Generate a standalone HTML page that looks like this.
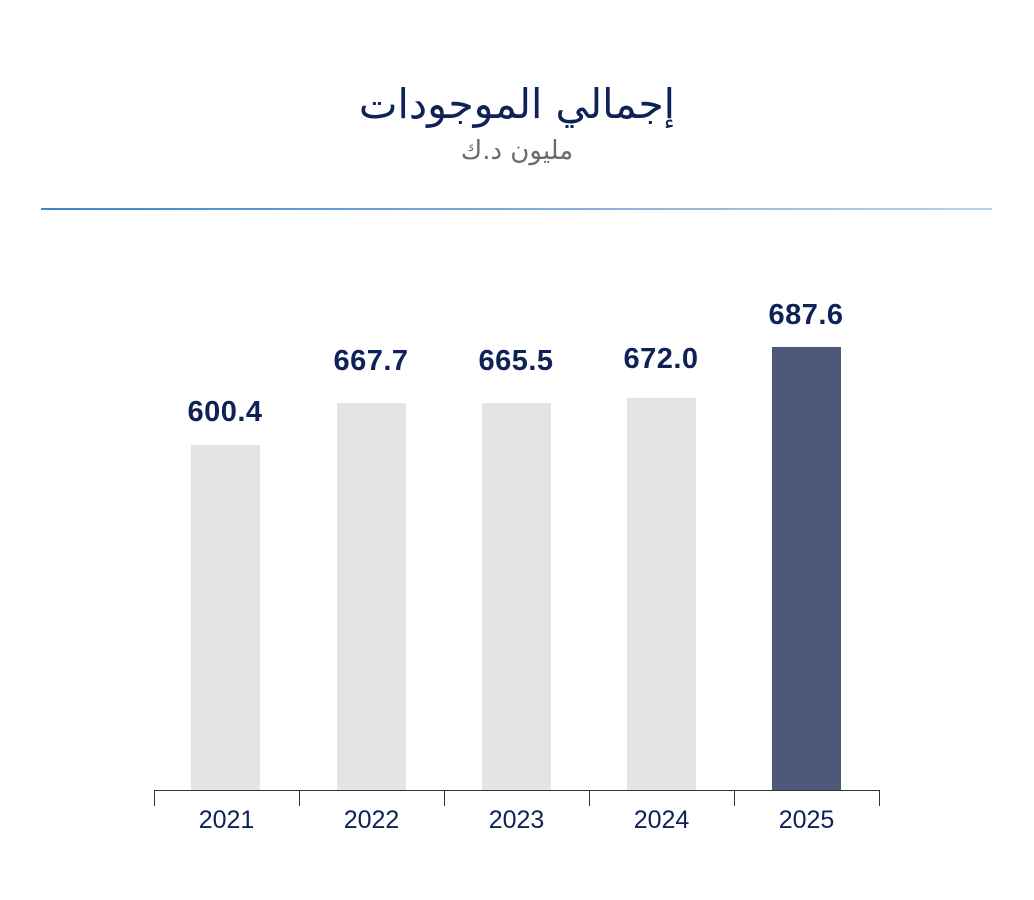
<!DOCTYPE html>
<html><head><meta charset="utf-8"><style>
html,body{margin:0;padding:0;background:#fff;}
body{width:1034px;height:900px;position:relative;overflow:hidden;font-family:"Liberation Sans","DejaVu Sans",sans-serif;}
.t{position:absolute;left:0;width:1034px;text-align:center;font-family:"DejaVu Sans",sans-serif;direction:rtl;}
.bar{position:absolute;width:69px;background:#e3e4e3;}
.v{position:absolute;width:160px;text-align:center;font-weight:bold;font-size:29px;color:#0e2257;letter-spacing:0.5px;}
.y{position:absolute;width:145px;text-align:center;font-size:25px;color:#0e2257;top:806px;}
.tick{position:absolute;top:790px;width:1px;height:16px;background:#333;}
</style></head><body>
<div class="t" style="top:80px;font-size:41px;color:#0e2257;">إجمالي الموجودات</div>
<div class="t" style="top:136px;font-size:26px;color:#6b6b6b;">مليون د.ك</div>
<div style="position:absolute;left:41px;top:208px;width:951px;height:2px;background:linear-gradient(to right,#3f86c6,#bcd1e7);"></div>

<div class="bar" style="left:191px;top:445px;height:345px"></div>
<div class="bar" style="left:337px;top:403px;height:387px"></div>
<div class="bar" style="left:482px;top:403px;height:387px"></div>
<div class="bar" style="left:627px;top:398px;height:392px"></div>
<div class="bar" style="left:772px;top:347px;height:443px;background:#4f5878"></div>

<div class="v" style="left:145px;top:396px">600.4</div>
<div class="v" style="left:291px;top:345px">667.7</div>
<div class="v" style="left:436px;top:345px">665.5</div>
<div class="v" style="left:581px;top:343px">672.0</div>
<div class="v" style="left:726px;top:299px">687.6</div>

<div style="position:absolute;left:154px;top:790px;width:726px;height:1px;background:#333"></div>
<div class="tick" style="left:154px"></div>
<div class="tick" style="left:299px"></div>
<div class="tick" style="left:444px"></div>
<div class="tick" style="left:589px"></div>
<div class="tick" style="left:734px"></div>
<div class="tick" style="left:879px"></div>

<div class="y" style="left:154px">2021</div>
<div class="y" style="left:299px">2022</div>
<div class="y" style="left:444px">2023</div>
<div class="y" style="left:589px">2024</div>
<div class="y" style="left:734px">2025</div>
</body></html>
